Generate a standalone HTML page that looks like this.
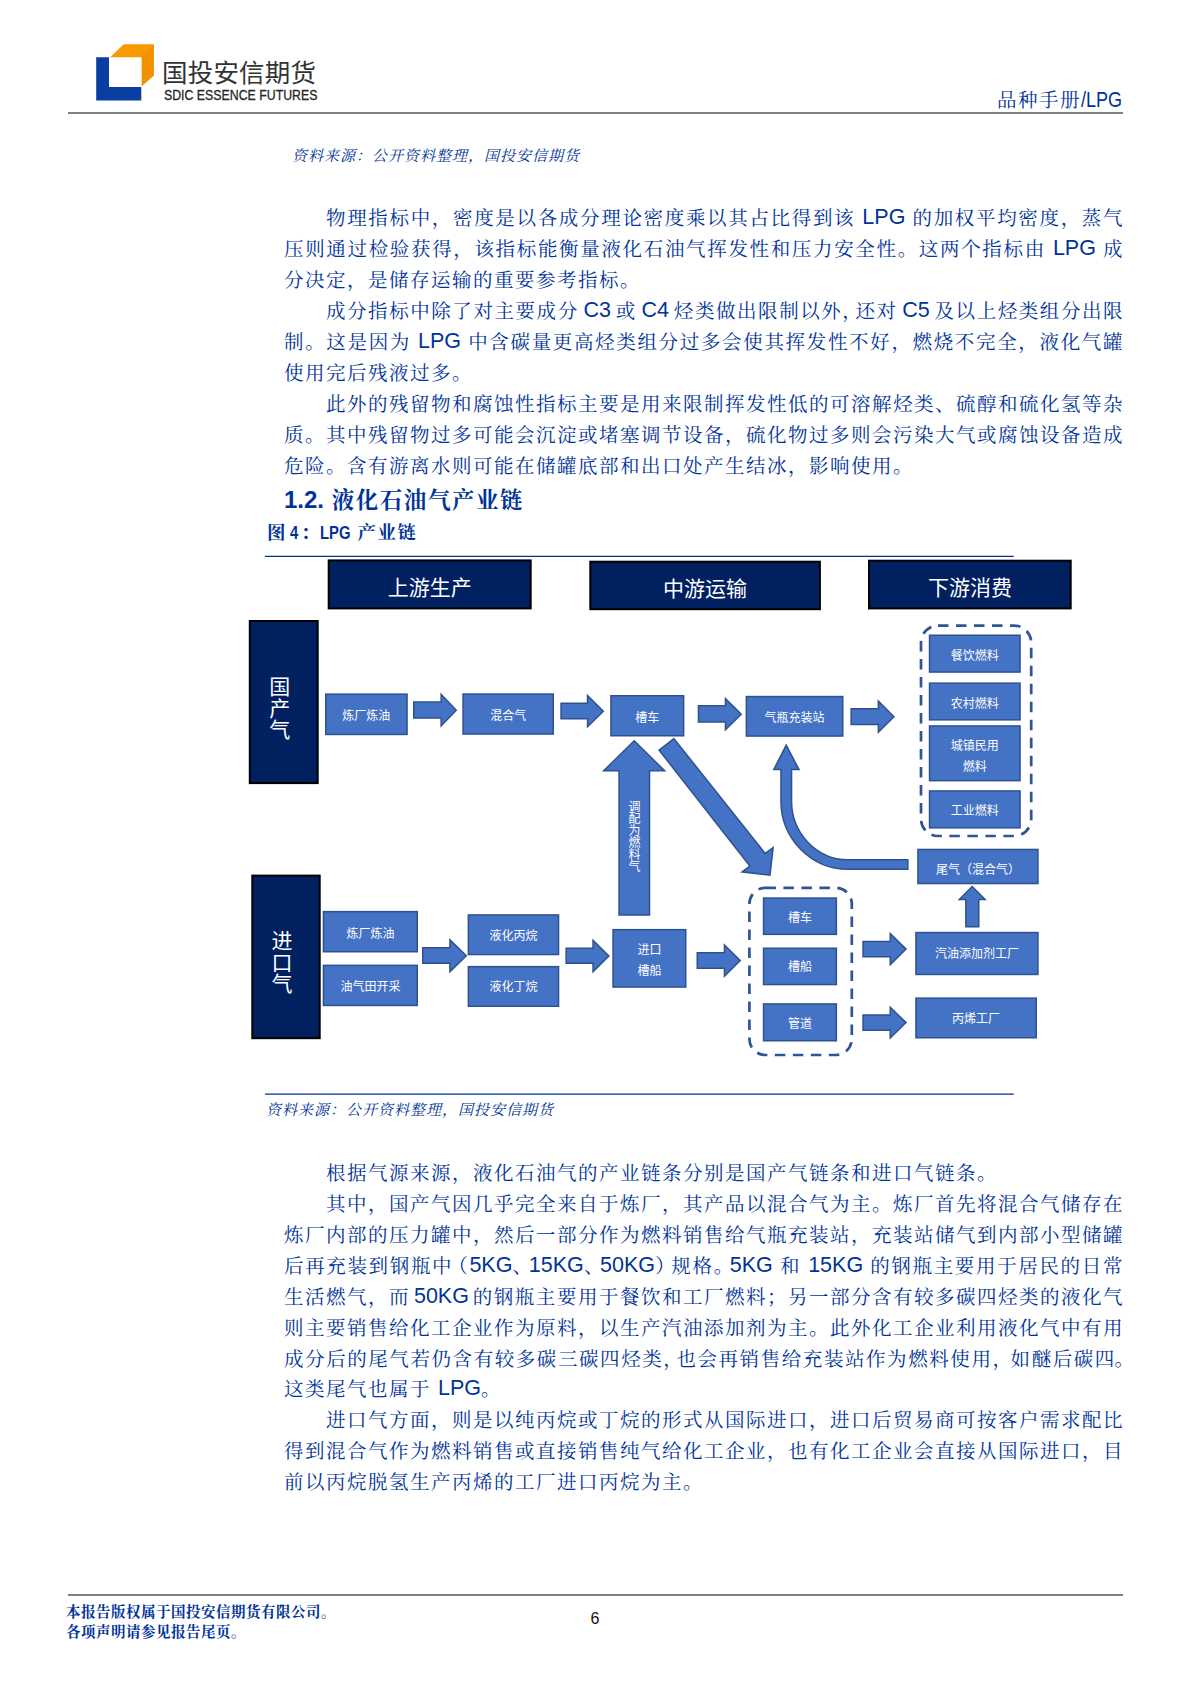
<!DOCTYPE html>
<html lang="zh-CN">
<head>
<meta charset="utf-8">
<title>品种手册/LPG</title>
<style>
html,body{margin:0;padding:0;background:#fff;}
body{width:1190px;height:1683px;position:relative;overflow:hidden;
  font-family:"Liberation Sans","Noto Serif CJK SC",serif;color:#003399;}
.abs{position:absolute;white-space:nowrap;}
.kai{font-family:"Liberation Sans","Noto Serif CJK SC",serif;}
.hei{font-family:"Liberation Sans","Noto Sans CJK SC",sans-serif;}
.rule{position:absolute;height:0;}
/* body text lines */
.ln{position:absolute;left:284px;width:840px;height:31px;line-height:31px;font-size:19.5px;letter-spacing:1.5px;
  white-space:nowrap;text-align:justify;text-align-last:justify;text-justify:inter-character;color:#003399;}
.ln.in{left:326px;width:798px;}
.ln.last{text-align:left;text-align-last:left;width:auto;}
.src{position:absolute;font-size:15px;letter-spacing:1px;font-style:italic;line-height:20px;white-space:nowrap;color:#003399;}
.vt{writing-mode:vertical-rl;text-orientation:upright;width:30px;line-height:30px;color:#fff;white-space:nowrap;}
.pc{margin-right:-5px;}
.po{margin-left:-5px;}
.cl{font-size:19px;transform-origin:0 50%;transform:scaleX(0.78);white-space:pre;}
.en{letter-spacing:0;font-size:21.5px;position:relative;top:-1px;}
</style>
</head>
<body>

<!-- ===== header ===== -->
<svg class="abs" style="left:90px;top:38px" width="72" height="68" viewBox="90 38 72 68">
  <path d="M96.2 57.2H109V87H141.3V100.4H96.2Z" fill="#0a3fa2"/>
  <path d="M110.6 56.8L123.7 44.2H153.8V75.4L141.8 86V57.2H110.6Z" fill="#f89a00"/>
  <path d="M141.8 57.2L153.8 44.2V75.4L141.8 86Z" fill="#f29000"/>
</svg>
<div class="abs hei" id="logocn" style="left:162px;top:56px;font-size:25.5px;line-height:34px;color:#333;letter-spacing:0.2px">国投安信期货</div>
<div class="abs" id="logoen" style="left:164px;top:86px;font-size:14.5px;line-height:18px;color:#262626;-webkit-text-stroke:0.3px #262626;transform-origin:0 50%;transform:scaleX(0.85)">SDIC ESSENCE FUTURES</div>
<div class="abs kai" id="hdr" style="right:68px;top:84.5px;font-size:19.5px;letter-spacing:1.5px;line-height:30px;color:#003399">品种手册<span style="display:inline-block;transform-origin:0 50%;transform:scaleX(0.82);font-size:22px;letter-spacing:0;width:41px">/LPG</span></div>
<div class="rule" style="left:68px;top:112px;width:1055px;border-top:2px solid #7f7f7f"></div>


<!-- ===== source note (top) ===== -->
<div class="src" id="src1" style="left:292px;top:146px">资料来源：公开资料整理，国投安信期货</div>

<!-- ===== body text, upper ===== -->
<div class="ln in" id="a1" style="top:202.5px">物理指标中，密度是以各成分理论密度乘以其占比得到该 <span class="en">LPG</span> 的加权平均密度，蒸气</div>
<div class="ln " id="a2" style="top:233.5px">压则通过检验获得，该指标能衡量液化石油气挥发性和压力安全性。这两个指标由 <span class="en">LPG</span> 成</div>
<div class="ln last" id="a3" style="top:264.5px">分决定，是储存运输的重要参考指标。</div>
<div class="ln in" id="a4" style="top:295.5px;word-spacing:-2.2px">成分指标中除了对主要成分 <span class="en">C3</span> 或 <span class="en">C4</span> 烃类做出限制以外<span class="pc" style="margin-right:-8px">，</span>还对 <span class="en">C5</span> 及以上烃类组分出限</div>
<div class="ln " id="a5" style="top:326.5px">制。这是因为 <span class="en">LPG</span> 中含碳量更高烃类组分过多会使其挥发性不好，燃烧不完全，液化气罐</div>
<div class="ln last" id="a6" style="top:357.5px">使用完后残液过多。</div>
<div class="ln in" id="a7" style="top:388.5px">此外的残留物和腐蚀性指标主要是用来限制挥发性低的可溶解烃类、硫醇和硫化氢等杂</div>
<div class="ln " id="a8" style="top:419.5px">质。其中残留物过多可能会沉淀或堵塞调节设备，硫化物过多则会污染大气或腐蚀设备造成</div>
<div class="ln last" id="a9" style="top:450.5px">危险。含有游离水则可能在储罐底部和出口处产生结冰，影响使用。</div>

<!-- ===== headings ===== -->
<div class="abs" id="h12" style="left:284px;top:484px;font-size:24px;line-height:32px;font-weight:bold;color:#003399">1.2. <span class="kai" style="font-size:22.5px;letter-spacing:1.55px;position:relative;left:1px">液化石油气产业链</span></div>
<div class="abs kai" id="cap" style="left:267px;top:520px;height:26px;font-size:18.5px;line-height:26px;font-weight:bold;color:#003399">图<span class="cl" style="display:inline-block;width:15.5px"> 4</span>：<span class="cl" style="display:inline-block;width:37.5px;margin-left:0.5px">LPG </span><span style="letter-spacing:1.5px">产业链</span></div>
<svg class="abs" style="left:260px;top:550px" width="760" height="12" viewBox="260 550 760 12"><line x1="265" y1="556.4" x2="1013.8" y2="556.4" stroke="#003399" stroke-width="1.25"/></svg>

<!-- ===== figure ===== -->
<svg class="abs" id="fig" style="left:240px;top:556px" width="860" height="520" viewBox="240 556 860 520" font-family="'Liberation Sans','Noto Sans CJK SC',sans-serif" text-anchor="middle">
<g fill="#002060" stroke="#000" stroke-width="2">
<rect x="328.7" y="560.4" width="202.0" height="48.0"/>
<rect x="590.3" y="561.7" width="229.6" height="47.5"/>
<rect x="869" y="560.7" width="201.7" height="47.7"/>
<rect x="249.8" y="621" width="67.9" height="162.1"/>
<rect x="252.3" y="875.6" width="67.4" height="162.6"/>
</g>
<g fill="#4472c4" stroke="#2f528f" stroke-width="1.5">
<rect x="325.75" y="694.15" width="81.3" height="40.3"/>
<rect x="463.05" y="694.05" width="90.2" height="40.0"/>
<rect x="610.95" y="695.75" width="72.7" height="40.0"/>
<rect x="746.35" y="696.55" width="96.4" height="39.5"/>
<rect x="929.55" y="635.25" width="90.5" height="36.8"/>
<rect x="929.55" y="683.15" width="90.5" height="36.7"/>
<rect x="929.55" y="725.95" width="90.5" height="54.7"/>
<rect x="929.55" y="790.95" width="90.5" height="36.9"/>
<rect x="917.95" y="849.45" width="120.0" height="34.1"/>
<rect x="323.45" y="911.65" width="93.8" height="40.1"/>
<rect x="323.45" y="965.35" width="93.8" height="40.1"/>
<rect x="468.35" y="914.95" width="90.2" height="39.6"/>
<rect x="468.35" y="966.65" width="90.2" height="39.6"/>
<rect x="613.05" y="929.65" width="72.7" height="57.4"/>
<rect x="763.55" y="898.05" width="72.8" height="36.3"/>
<rect x="763.55" y="948.25" width="72.8" height="36.3"/>
<rect x="763.55" y="1003.95" width="72.8" height="36.8"/>
<rect x="915.95" y="932.55" width="122.0" height="41.9"/>
<rect x="915.95" y="998.15" width="120.3" height="39.6"/>
<path d="M413.75 702.05H441.15V694.37L456.26 710.15L441.15 725.93V717.95H413.75Z"/>
<path d="M561.05 703.35H587.55V695.6L603.33 711.2L587.55 726.8V718.75H561.05Z"/>
<path d="M698.45 705.85H725.45V698.6L741.23 714.2L725.45 729.8V722.05H698.45Z"/>
<path d="M851.15 708.85H878.35V701.11L893.94 716.7L878.35 732.29V724.55H851.15Z"/>
<path d="M422.75 947.75H449.95V939.87L466.32 955.75L449.95 971.63V963.35H422.75Z"/>
<path d="M566.15 948.25H593.05V940.39L608.93 956.0L593.05 971.61V963.35H566.15Z"/>
<path d="M697.25 952.75H724.45V945.0L740.23 960.6L724.45 976.2V968.15H697.25Z"/>
<path d="M863.05 941.45H890.25V933.59L906.03 949.1L890.25 964.61V956.85H863.05Z"/>
<path d="M863.05 1015.05H890.25V1007.27L906.02 1022.6L890.25 1037.93V1030.15H863.05Z"/>
<path d="M634.2 740.75L664.72 770.85H649.55V915.05H619.05V770.85H603.68Z"/>
<path d="M972.2 886.47L985.11 899.55H978.75V926.85H965.85V899.55H959.29Z"/>
<path d="M673.97 738.65L765.16 853.43L773.15 847.53L769.94 875.07L741.98 871.87L749.87 866.04L659.06 750.13Z"/>
<path d="M786.2 745.1L799.0 769.55H791.55V801A56.75 58.75 0 0 0 848 859.75H907.85V869.25H848A67.25 68.25 0 0 1 780.95 801V769.55H773.8Z"/>
</g>
<g fill="none" stroke="#2f5597" stroke-width="2.7" stroke-dasharray="10.5 7.5">
<rect x="921" y="625.6" width="110.2" height="210.4" rx="17" ry="17"/>
<rect x="749.4" y="887.8" width="102.4" height="167.2" rx="16" ry="16"/>
</g>
<g fill="#fff">
<g font-size="21">
<text x="429.7" y="595.0">上游生产</text>
<text x="705.1" y="596.0">中游运输</text>
<text x="969.9" y="595.1">下游消费</text>
</g>
<g font-size="12">
<text x="366.3" y="719.6">炼厂炼油</text>
<text x="508.2" y="719.6">混合气</text>
<text x="647.3" y="721.6">槽车</text>
<text x="794.5" y="721.6">气瓶充装站</text>
<text x="974.8" y="659.8">餐饮燃料</text>
<text x="974.8" y="707.7">农村燃料</text>
<text><tspan x="974.8" y="750.0">城镇民用</tspan><tspan x="974.8" y="770.7">燃料</tspan></text>
<text x="974.8" y="814.8">工业燃料</text>
<text x="978" y="873.8">尾气（混合气）</text>
<text x="370.4" y="938.2">炼厂炼油</text>
<text x="370.4" y="990.7">油气田开采</text>
<text x="513.5" y="940.2">液化丙烷</text>
<text x="513.5" y="991.2">液化丁烷</text>
<text><tspan x="649.4" y="953.7">进口</tspan><tspan x="649.4" y="974.8">槽船</tspan></text>
<text x="800" y="921.6">槽车</text>
<text x="800" y="971.3">槽船</text>
<text x="800" y="1028.4">管道</text>
<text x="977" y="958.1">汽油添加剂工厂</text>
<text x="976.1" y="1022.9">丙烯工厂</text>
</g></g>
</svg>
<div class="abs hei vt" style="left:262.8px;top:675.5px;font-size:21px;letter-spacing:0.5px">国产气</div>
<div class="abs hei vt" style="left:265px;top:930px;font-size:21px;letter-spacing:0.5px">进口气</div>
<div class="abs hei vt" style="left:618px;top:800px;font-size:12px">调配为燃料气</div>

<svg class="abs" style="left:260px;top:1088px" width="760" height="12" viewBox="260 1088 760 12"><line x1="265" y1="1094.2" x2="1013.8" y2="1094.2" stroke="#003399" stroke-width="1.25"/></svg>
<div class="src" id="src2" style="left:266px;top:1099.5px">资料来源：公开资料整理，国投安信期货</div>

<!-- ===== body text, lower ===== -->
<div class="ln in last" id="b1" style="top:1157.5px">根据气源来源，液化石油气的产业链条分别是国产气链条和进口气链条。</div>
<div class="ln in" id="b2" style="top:1188.5px">其中，国产气因几乎完全来自于炼厂，其产品以混合气为主。炼厂首先将混合气储存在</div>
<div class="ln " id="b3" style="top:1219.5px">炼厂内部的压力罐中，然后一部分作为燃料销售给气瓶充装站，充装站储气到内部小型储罐</div>
<div class="ln " id="b4" style="top:1250.5px">后再充装到钢瓶中<span class="po">（</span><span class="en">5KG</span><span class="pc">、</span><span class="en">15KG</span><span class="pc">、</span><span class="en">50KG</span><span class="pc">）</span>规格<span class="pc">。</span><span class="en">5KG</span> 和 <span class="en">15KG</span> 的钢瓶主要用于居民的日常</div>
<div class="ln " id="b5" style="top:1281.5px;word-spacing:-3px">生活燃气，而 <span class="en">50KG</span> 的钢瓶主要用于餐饮和工厂燃料；另一部分含有较多碳四烃类的液化气</div>
<div class="ln " id="b6" style="top:1312.5px">则主要销售给化工企业作为原料，以生产汽油添加剂为主。此外化工企业利用液化气中有用</div>
<div class="ln " id="b7" style="top:1343.5px">成分后的尾气若仍含有较多碳三碳四烃类<span class="pc" style="margin-right:-8px">，</span>也会再销售给充装站作为燃料使用<span class="pc" style="margin-right:-3px">，</span>如醚后碳<span style="letter-spacing:0">四</span><span class="pc" style="margin-right:-10px;letter-spacing:0">。</span></div>
<div class="ln last" id="b8" style="top:1373.5px">这类尾气也属于 <span class="en">LPG</span>。</div>
<div class="ln in" id="b9" style="top:1404.5px">进口气方面，则是以纯丙烷或丁烷的形式从国际进口，进口后贸易商可按客户需求配比</div>
<div class="ln " id="b10" style="top:1435.5px">得到混合气作为燃料销售或直接销售纯气给化工企业，也有化工企业会直接从国际进口，目</div>
<div class="ln last" id="b11" style="top:1466.5px">前以丙烷脱氢生产丙烯的工厂进口丙烷为主。</div>

<!-- ===== footer ===== -->
<div class="rule" style="left:68px;top:1594px;width:1055px;border-top:2px solid #7f7f7f"></div>
<div class="abs kai" style="left:66px;top:1603px;font-size:14.5px;letter-spacing:0.5px;line-height:19.5px;font-weight:bold;color:#003399">本报告版权属于国投安信期货有限公司。<br>各项声明请参见报告尾页。</div>
<div class="abs" style="left:590.5px;top:1609.5px;font-size:16px;line-height:18px;color:#111">6</div>

</body>
</html>
